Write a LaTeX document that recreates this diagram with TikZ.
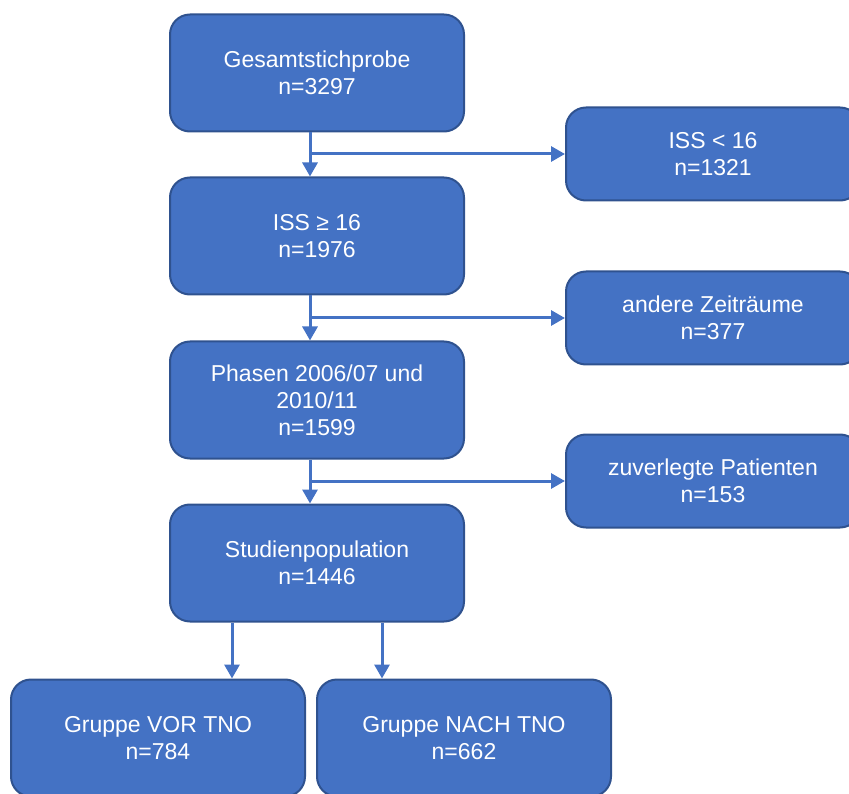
\documentclass[tikz,border=0pt]{standalone}
\usepackage{fontspec}
\setmainfont{Liberation Sans}
\usetikzlibrary{arrows.meta}
\definecolor{boxfill}{HTML}{4472C4}
\definecolor{boxline}{HTML}{2F528F}
\tikzset{
  flowbox/.style={draw=boxline, line width=2pt, fill=boxfill, rounded corners=20pt,
    text=white, align=center, font=\fontsize{23}{27}\selectfont,
    minimum width=294pt, inner sep=0pt},
  tallbox/.style={flowbox, minimum height=117pt},
  shortbox/.style={flowbox, minimum height=93pt},
  arr/.style={draw=boxfill, line width=3pt, -{Triangle[length=14pt,width=15pt]}}
}
\begin{document}
\begin{tikzpicture}[x=1pt,y=-1pt]
\useasboundingbox (0,0) rectangle (849,794);
\clip (0,0) rectangle (849,794);
\node[tallbox] (A) at (317,73) {Gesamtstichprobe\\n=3297};
\node[shortbox] (R1) at (713,154) {ISS < 16\\n=1321};
\node[tallbox] (B) at (317,236) {ISS ≥ 16\\n=1976};
\node[shortbox] (R2) at (713,318) {andere Zeiträume\\n=377};
\node[tallbox] (C) at (317,400) {Phasen 2006/07 und\\2010/11\\n=1599};
\node[shortbox] (R3) at (713,481) {zuverlegte Patienten\\n=153};
\node[tallbox] (D) at (317,563) {Studienpopulation\\n=1446};
\node[tallbox] (E) at (158,738) {Gruppe VOR TNO\\n=784};
\node[tallbox] (F) at (464,738) {Gruppe NACH TNO\\n=662};

\draw[arr] ([xshift=-7pt]A.south) -- ([xshift=-7pt]A.south |- B.north);
\draw[arr] ([xshift=-7pt]A.south |- R1.west) -- (R1.west);
\draw[arr] ([xshift=-7pt]B.south) -- ([xshift=-7pt]B.south |- C.north);
\draw[arr] ([xshift=-7pt]B.south |- R2.west) -- (R2.west);
\draw[arr] ([xshift=-7pt]C.south) -- ([xshift=-7pt]C.south |- D.north);
\draw[arr] ([xshift=-7pt]C.south |- R3.west) -- (R3.west);
\draw[arr] ([xshift=-85pt]D.south) -- ([xshift=-85pt]D.south |- E.north);
\draw[arr] ([xshift=65pt]D.south) -- ([xshift=65pt]D.south |- F.north);
\end{tikzpicture}
\end{document}
